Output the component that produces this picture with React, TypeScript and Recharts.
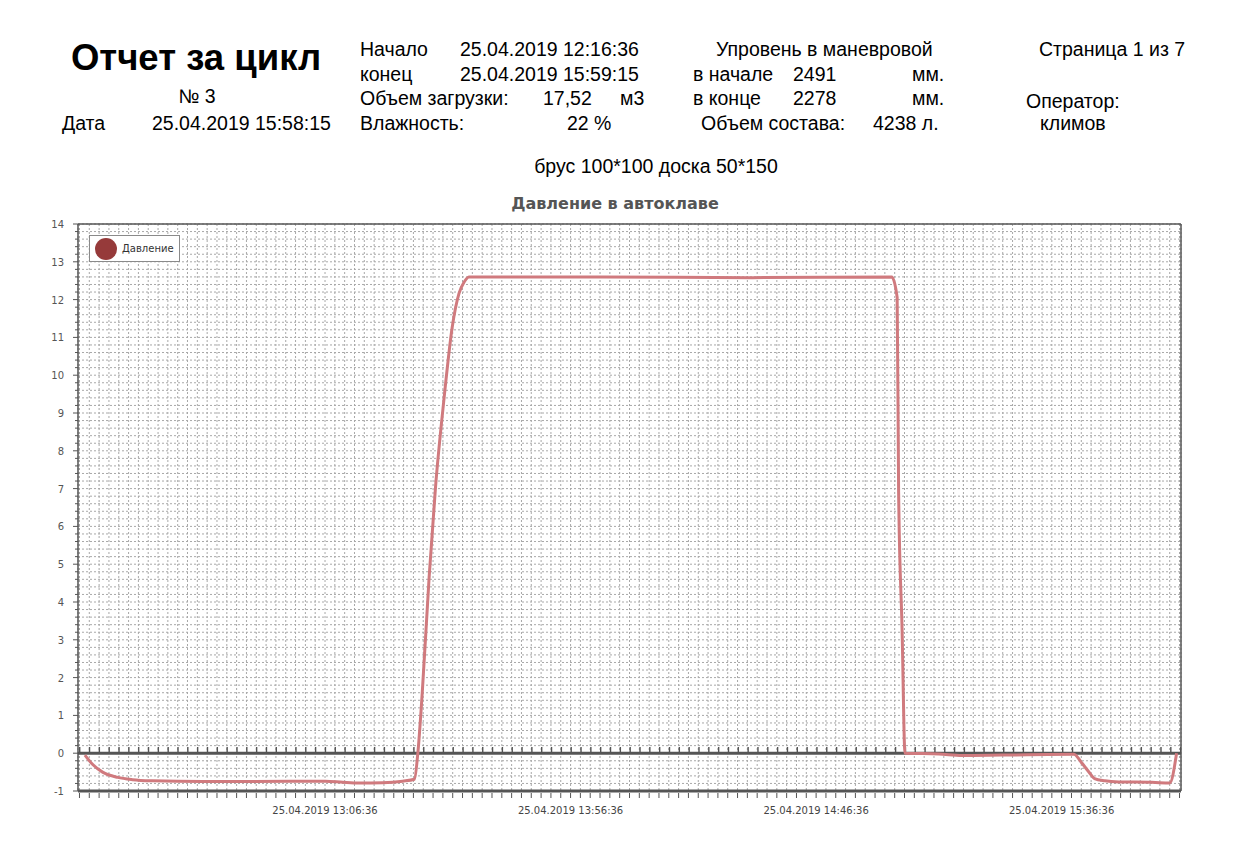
import React from "react";
import { LineChart, Line, XAxis, YAxis, CartesianGrid, ReferenceLine, Legend } from "recharts";

// minutes since 12:16:36
const timeMin = [
  1.1, 2.7, 4.7, 7.8, 10.8, 14.9, 25.1, 35.3, 50.1, 53.6, 57.0, 61.7, 65.8, 68.2,
  68.9, 69.8, 71.2, 72.5, 74.2, 75.9, 77.3, 78.3, 79.3, 106.5, 137.0, 165.4,
  166.5, 166.8, 167.5, 168.1, 175.0, 179.7, 187.8, 202.5, 204.1, 205.5, 206.7,
  208.8, 211.6, 218.3, 222.0, 223.4,
];
const pressure = [
  -0.05, -0.3, -0.5, -0.64, -0.7, -0.73, -0.75, -0.75, -0.74, -0.77, -0.79, -0.78, -0.74, -0.69,
  0, 1.6, 4.66, 7.04, 9.34, 11.27, 12.17, 12.46, 12.6, 12.6, 12.58, 12.6,
  12.06, 6.9, 3.3, 0, -0.02, -0.06, -0.05, -0.03, -0.26, -0.49, -0.67,
  -0.73, -0.76, -0.77, -0.79, 0,
];

const xMajorTicks = [50, 100, 150, 200];
const xMinorStep = 2;
const xMax = 224;
const yMin = -1;
const yMax = 14;
const yMinorStep = 0.2;

const START_SEC = 12 * 3600 + 16 * 60 + 36;
const DAY = "25.04.2019";

const data = timeMin.map((t, i) => ({ t, p: pressure[i] }));
const xTicks = Array.from({ length: xMax / xMinorStep + 1 }, (_, i) => i * xMinorStep);
const yTicks = Array.from(
  { length: Math.round((yMax - yMin) / yMinorStep) + 1 },
  (_, i) => Math.round((yMin + i * yMinorStep) * 10) / 10
);

const pad = (n: number) => String(n).padStart(2, "0");
const fmtTime = (m: number) => {
  const s = START_SEC + Math.round(m * 60);
  return `${DAY} ${pad(Math.floor(s / 3600))}:${pad(Math.floor((s % 3600) / 60))}:${pad(s % 60)}`;
};

const FONT = "'Liberation Sans', Arial, sans-serif";
const CHART_FONT = "'DejaVu Sans', Verdana, sans-serif";
const AXIS = "#555";

const XTick = (props: any) => {
  const { x, y, payload } = props;
  const major = xMajorTicks.includes(payload.value);
  return (
    <g>
      <line x1={x} x2={x} y1={y + 2} y2={y + 7} stroke={AXIS} strokeWidth={1} />
      {major && (
        <text x={x} y={y + 23} textAnchor="middle" fontSize={10} fill="#444" fontFamily={CHART_FONT}>
          {fmtTime(payload.value)}
        </text>
      )}
    </g>
  );
};

const YTick = (props: any) => {
  const { x, y, payload } = props;
  const v = payload.value;
  const major = Math.abs(v - Math.round(v)) < 1e-6;
  return (
    <g>
      <line x1={x - (major ? 5 : 3)} x2={x} y1={y} y2={y} stroke={AXIS} strokeWidth={1} />
      {major && (
        <text x={x - 14} y={y + 4} textAnchor="end" fontSize={10} fill={AXIS} fontFamily={CHART_FONT}>
          {Math.round(v)}
        </text>
      )}
    </g>
  );
};

const LegendBox = () => (
  <div
    style={{
      boxSizing: "border-box",
      width: 91,
      height: 27,
      border: "1px solid #8a8a8a",
      background: "#fff",
      display: "flex",
      alignItems: "center",
      paddingLeft: 5,
      fontFamily: CHART_FONT,
      fontSize: 10,
      color: "#333",
    }}
  >
    <span style={{ width: 22, height: 22, borderRadius: 11, background: "#963a3a", display: "inline-block" }} />
    <span style={{ marginLeft: 5 }}>Давление</span>
  </div>
);

const T = (p: { x: number; y: number; size?: number; bold?: boolean; anchor?: "start" | "middle" | "end"; fill?: string; font?: string; children: React.ReactNode }) => (
  <text
    x={p.x}
    y={p.y}
    fontSize={p.size ?? 19.5}
    fontWeight={p.bold ? "bold" : "normal"}
    textAnchor={p.anchor ?? "start"}
    fill={p.fill ?? "#000"}
    fontFamily={p.font ?? FONT}
  >
    {p.children}
  </text>
);

export default function App() {
  return (
    <div style={{ position: "absolute", left: 0, top: 0, width: 1236, height: 859, background: "#fff" }}>
      <LineChart width={1236} height={859} data={data} margin={{ top: 223, right: 54, bottom: 38, left: 28 }}>
        <CartesianGrid stroke="#a8a8a8" strokeDasharray="2 2" />
        <XAxis
          dataKey="t"
          type="number"
          domain={[-0.3, 224.3]}
          ticks={xTicks}
          interval={0}
          tick={<XTick />}
          tickSize={0}
          tickMargin={0}
          tickLine={false}
          axisLine={{ stroke: AXIS, strokeWidth: 3 }}
          height={30}
        />
        <XAxis
          xAxisId="top"
          orientation="top"
          dataKey="t"
          type="number"
          domain={[-0.3, 224.3]}
          tick={false}
          tickLine={false}
          axisLine={{ stroke: AXIS, strokeWidth: 1.5 }}
          height={1}
        />
        <YAxis
          type="number"
          domain={[yMin, yMax]}
          ticks={yTicks}
          interval={0}
          tick={<YTick />}
          tickSize={0}
          tickMargin={0}
          tickLine={false}
          axisLine={{ stroke: AXIS, strokeWidth: 1.5 }}
          width={50}
        />
        <YAxis
          yAxisId="right"
          orientation="right"
          type="number"
          domain={[yMin, yMax]}
          tick={false}
          tickLine={false}
          axisLine={{ stroke: AXIS, strokeWidth: 1.5 }}
          width={1}
        />
        <ReferenceLine y={0} stroke={AXIS} strokeWidth={3} />
        <ReferenceLine y={0.1} stroke={AXIS} strokeWidth={5} strokeDasharray="1.4 8.43" strokeDashoffset={-1} />
        <Legend
          layout="horizontal"
          align="center"
          verticalAlign="middle"
          wrapperStyle={{ left: 89, top: 235, width: 91, height: 27 }}
          content={() => <LegendBox />}
        />
        <Line
          type="monotone"
          dataKey="p"
          stroke="#d07a7e"
          strokeWidth={3}
          dot={false}
          isAnimationActive={false}
        />
      </LineChart>
      <svg width={1236} height={220} style={{ position: "absolute", left: 0, top: 0, pointerEvents: "none" }}>
        <T x={196} y={70} size={36.5} bold anchor="middle">Отчет за цикл</T>
        <T x={197} y={103} anchor="middle">№ 3</T>
        <T x={62} y={130}>Дата</T>
        <T x={152} y={130}>25.04.2019 15:58:15</T>

        <T x={360} y={56}>Начало</T>
        <T x={460} y={56}>25.04.2019 12:16:36</T>
        <T x={360} y={81}>конец</T>
        <T x={460} y={81}>25.04.2019 15:59:15</T>
        <T x={360} y={105}>Объем загрузки:</T>
        <T x={543} y={105}>17,52</T>
        <T x={620} y={105}>м3</T>
        <T x={360} y={130}>Влажность:</T>
        <T x={567} y={130}>22 %</T>

        <T x={716} y={56}>Упровень в маневровой</T>
        <T x={693} y={81}>в начале</T>
        <T x={793} y={81}>2491</T>
        <T x={912} y={81}>мм.</T>
        <T x={693} y={105}>в конце</T>
        <T x={793} y={105}>2278</T>
        <T x={912} y={105}>мм.</T>
        <T x={701} y={130}>Объем состава:</T>
        <T x={873} y={130}>4238 л.</T>

        <T x={1039} y={56}>Страница 1 из 7</T>
        <T x={1026} y={108}>Оператор:</T>
        <T x={1040} y={130}>климов</T>

        <T x={656} y={173} anchor="middle">брус 100*100 доска 50*150</T>
        <T x={615} y={209} size={16} bold anchor="middle" fill="#555" font={CHART_FONT}>Давление в автоклаве</T>
      </svg>
    </div>
  );
}
